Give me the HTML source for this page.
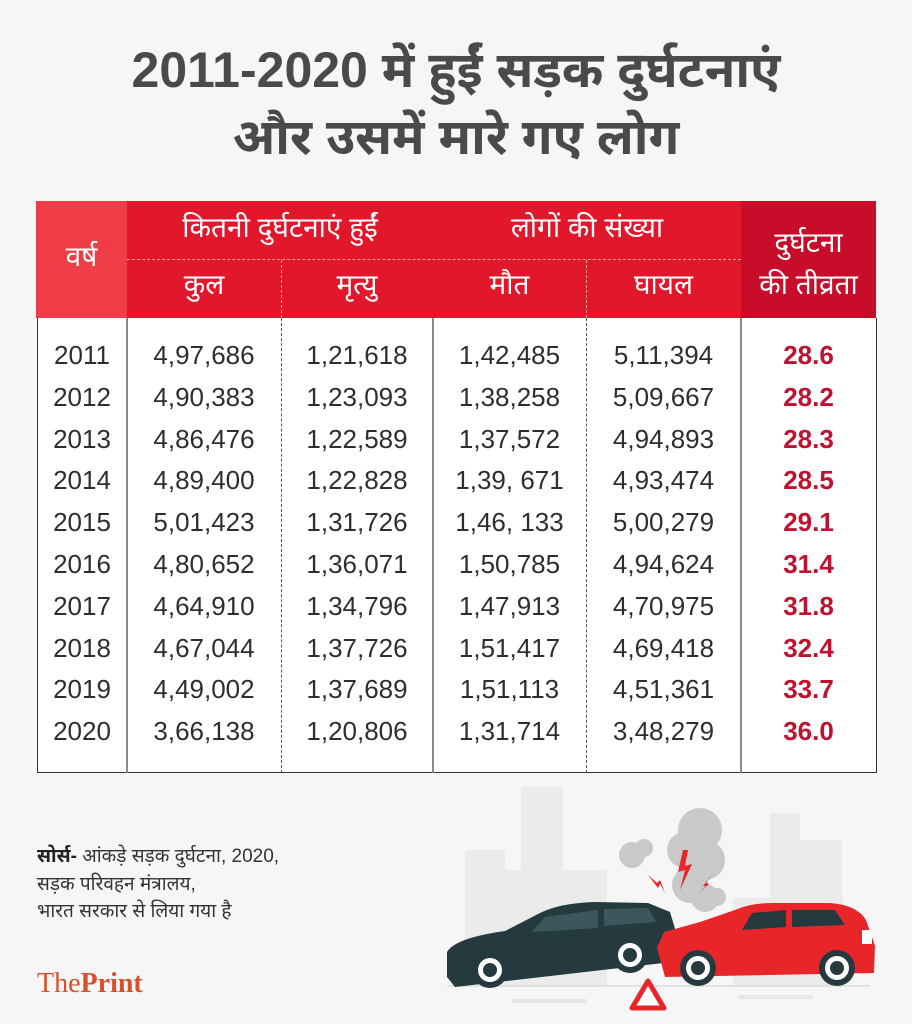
<!DOCTYPE html>
<html><head><meta charset="utf-8">
<style>
html,body{margin:0;padding:0;}
body{width:912px;height:1024px;background:#f6f6f6;position:relative;overflow:hidden;font-family:"Liberation Sans","Noto Sans Devanagari","Lohit Devanagari",sans-serif;}
.t{position:absolute;left:0;width:912px;text-align:center;font-weight:bold;color:#4a4a4a;font-size:50px;line-height:60px;}
.abs{position:absolute;}
.h{position:absolute;color:#fff;text-align:center;font-size:28px;line-height:34px;}
.c{position:absolute;text-align:center;font-size:26px;line-height:42px;color:#2e2e2e;}
.r{color:#c01230;font-weight:bold;}
</style></head><body>
<div class="t" style="top:40px;">2011-2020 में हुईं सड़क दुर्घटनाएं</div>
<div class="t" style="top:107px;">और उसमें मारे गए लोग</div>

<!-- header -->
<div class="abs" style="left:36px;top:201px;width:91px;height:117px;background:#ef3c47;"></div>
<div class="abs" style="left:127px;top:201px;width:614px;height:117px;background:#e3172b;"></div>
<div class="abs" style="left:741px;top:201px;width:135px;height:117px;background:#c80d2b;"></div>
<div class="abs" style="left:127px;top:259px;width:614px;height:0;border-top:1px dashed rgba(255,200,200,0.8);"></div>
<div class="abs" style="left:281px;top:260px;width:0;height:58px;border-left:1px dashed rgba(255,200,200,0.8);"></div>
<div class="abs" style="left:586px;top:260px;width:0;height:58px;border-left:1px dashed rgba(255,200,200,0.8);"></div>

<div class="h" style="left:36px;width:91px;top:240px;">वर्ष</div>
<div class="h" style="left:127px;width:306px;top:211px;">कितनी दुर्घटनाएं हुईं</div>
<div class="h" style="left:433px;width:308px;top:211px;">लोगों की संख्या</div>
<div class="h" style="left:127px;width:154px;top:268px;">कुल</div>
<div class="h" style="left:281px;width:152px;top:268px;">मृत्यु</div>
<div class="h" style="left:433px;width:153px;top:268px;">मौत</div>
<div class="h" style="left:586px;width:155px;top:268px;">घायल</div>
<div class="h" style="left:741px;width:135px;top:226px;">दुर्घटना</div>
<div class="h" style="left:741px;width:135px;top:268px;">की तीव्रता</div>

<!-- body -->
<div class="abs" style="left:37px;top:318px;width:838px;height:454px;background:#fff;border-left:1.5px solid #333;border-right:1.5px solid #333;border-bottom:1.5px solid #333;"></div>
<div class="abs" style="left:126px;top:318px;width:2px;height:455px;background:#8a8a8a;"></div>
<div class="abs" style="left:432px;top:318px;width:2px;height:455px;background:#8a8a8a;"></div>
<div class="abs" style="left:740px;top:318px;width:2px;height:455px;background:#8a8a8a;"></div>
<div class="abs" style="left:281px;top:318px;width:0;height:455px;border-left:1px dashed #555;"></div>
<div class="abs" style="left:586px;top:318px;width:0;height:455px;border-left:1px dashed #555;"></div>

<div class="c" style="left:37px;width:90px;top:335px;line-height:41.8px;">2011<br>2012<br>2013<br>2014<br>2015<br>2016<br>2017<br>2018<br>2019<br>2020</div>
<div class="c" style="left:127px;width:154px;top:335px;line-height:41.8px;">4,97,686<br>4,90,383<br>4,86,476<br>4,89,400<br>5,01,423<br>4,80,652<br>4,64,910<br>4,67,044<br>4,49,002<br>3,66,138</div>
<div class="c" style="left:281px;width:152px;top:335px;line-height:41.8px;">1,21,618<br>1,23,093<br>1,22,589<br>1,22,828<br>1,31,726<br>1,36,071<br>1,34,796<br>1,37,726<br>1,37,689<br>1,20,806</div>
<div class="c" style="left:433px;width:153px;top:335px;line-height:41.8px;">1,42,485<br>1,38,258<br>1,37,572<br>1,39, 671<br>1,46, 133<br>1,50,785<br>1,47,913<br>1,51,417<br>1,51,113<br>1,31,714</div>
<div class="c" style="left:586px;width:155px;top:335px;line-height:41.8px;">5,11,394<br>5,09,667<br>4,94,893<br>4,93,474<br>5,00,279<br>4,94,624<br>4,70,975<br>4,69,418<br>4,51,361<br>3,48,279</div>
<div class="c r" style="left:741px;width:135px;top:335px;line-height:41.8px;">28.6<br>28.2<br>28.3<br>28.5<br>29.1<br>31.4<br>31.8<br>32.4<br>33.7<br>36.0</div>

<!-- source -->
<div class="abs" style="left:37px;top:843px;font-size:19px;line-height:27.5px;color:#333;"><b style="color:#222;">सोर्स-</b> आंकड़े सड़क दुर्घटना, 2020,<br>सड़क परिवहन मंत्रालय,<br>भारत सरकार से लिया गया है</div>
<div class="abs" style="left:37px;top:968px;font-family:'Liberation Serif',serif;font-size:28px;line-height:32px;color:#d4522e;">The<b>Print</b></div>

<!-- illustration -->
<svg class="abs" style="left:0;top:0;" width="912" height="1024" viewBox="0 0 912 1024">
  <g fill="#ebebeb">
    <rect x="465" y="850" width="40" height="136"/>
    <rect x="505" y="870" width="30" height="116"/>
    <rect x="521" y="787" width="42" height="199"/>
    <rect x="563" y="870" width="44" height="116"/>
    <rect x="770" y="813" width="30" height="173"/>
    <rect x="800" y="840" width="42" height="146"/>
    <rect x="733" y="898" width="110" height="88"/>
  </g>
  <line x1="447" y1="986" x2="870" y2="986" stroke="#dcdcdc" stroke-width="1.5"/>
  <rect x="512" y="999" width="75" height="4" fill="#e6e6e6"/>
  <rect x="738" y="995" width="75" height="4" fill="#e6e6e6"/>
  <!-- smoke -->
  <g fill="#c9c9c9">
    <circle cx="700" cy="830" r="22"/>
    <circle cx="685" cy="850" r="18"/>
    <circle cx="705" cy="860" r="20"/>
    <circle cx="690" cy="885" r="18"/>
    <circle cx="705" cy="898" r="14"/>
    <circle cx="632" cy="855" r="13"/>
    <circle cx="644" cy="848" r="9"/>
    <circle cx="717" cy="897" r="9"/>
  </g>
  <!-- bolts -->
  <g fill="#e8262a">
    <polygon points="683,850 678,872 685,870 680,890 692,864 685,866 688,850"/>
    <polygon points="648,875 658,888 660,884 665,893 660,880 657,883"/>
    <polygon points="713,873 703,886 706,886 698,894 709,884 706,883"/>
  </g>
  <!-- dark car -->
  <path d="M447,977 L447,952 Q455,938 505,931 L540,913 Q560,903 595,902 L648,903 L670,912 L680,945 L672,962 L455,987 Z" fill="#253a3e"/>
  <polygon points="545,917 598,910 598,928 532,932" fill="#3c575c"/>
  <polygon points="604,909 648,908 656,922 604,926" fill="#3c575c"/>
  <!-- red car -->
  <path d="M657,948 L664,932 L700,922 L735,910 Q750,903 772,903 L830,903 Q857,905 866,920 L875,946 L874,973 L665,977 Z" fill="#e8262a"/>
  <polygon points="752,913 786,910 786,927 742,930" fill="#253a3e"/>
  <polygon points="792,910 835,910 845,925 792,927" fill="#253a3e"/>
  <rect x="862" y="930" width="10" height="14" fill="#fff"/>
  <!-- wheels -->
  <g>
    <circle cx="490" cy="970" r="18" fill="#253a3e"/><circle cx="490" cy="970" r="12" fill="#fff"/><circle cx="490" cy="970" r="7" fill="#253a3e"/>
    <circle cx="630" cy="955" r="18" fill="#253a3e"/><circle cx="630" cy="955" r="12" fill="#fff"/><circle cx="630" cy="955" r="7" fill="#253a3e"/>
    <circle cx="698" cy="968" r="18" fill="#253a3e"/><circle cx="698" cy="968" r="12" fill="#fff"/><circle cx="698" cy="968" r="7" fill="#253a3e"/>
    <circle cx="837" cy="968" r="18" fill="#253a3e"/><circle cx="837" cy="968" r="12" fill="#fff"/><circle cx="837" cy="968" r="7" fill="#253a3e"/>
  </g>
  <!-- warning triangle -->
  <polygon points="632,1008 648,981 664,1008" fill="#fff" stroke="#e8262a" stroke-width="5" stroke-linejoin="round"/>
</svg>
</body></html>
